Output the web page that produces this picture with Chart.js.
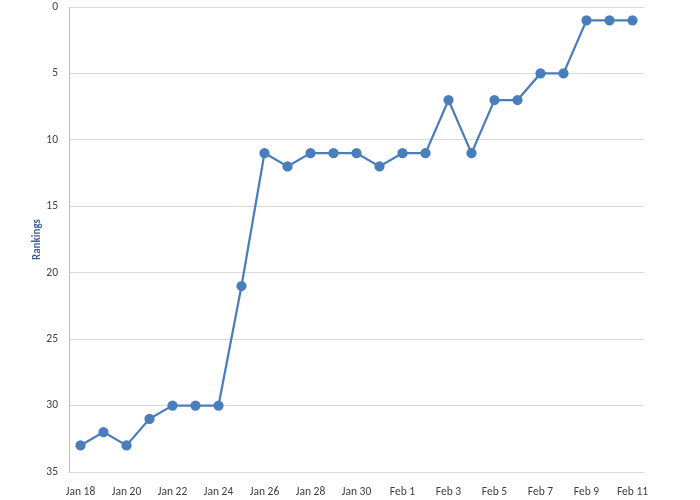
<!DOCTYPE html>
<html>
<head>
<meta charset="utf-8">
<script src="https://cdn.jsdelivr.net/npm/chart.js@4"></script>
<style>
  html, body { margin: 0; padding: 0; background: #fff; }
  #wrap { width: 700px; height: 500px; }
</style>
</head>
<body>
<div id="wrap"><canvas id="chart"></canvas></div>
<script>
// --- Data ---
const days = ['Jan 18','Jan 19','Jan 20','Jan 21','Jan 22','Jan 23','Jan 24','Jan 25','Jan 26','Jan 27','Jan 28','Jan 29','Jan 30','Jan 31',
              'Feb 1','Feb 2','Feb 3','Feb 4','Feb 5','Feb 6','Feb 7','Feb 8','Feb 9','Feb 10','Feb 11'];
const rankings = [33, 32, 33, 31, 30, 30, 30, 21, 11, 12, 11, 11, 11, 12, 11, 11, 7, 11, 7, 7, 5, 5, 1, 1, 1];
const yMin = 0, yMax = 35, yStep = 5;

const lineBlue = '#4a7ebb';
const font = { family: 'Calibri, Carlito, Lato, sans-serif', size: 11.5 };

new Chart(document.getElementById('chart').getContext('2d'), {
    type: 'line',
    data: {
        labels: days,
        datasets: [{
            label: 'Rankings',
            data: rankings,
            borderColor: lineBlue,
            backgroundColor: lineBlue,
            borderWidth: 2.25,
            pointRadius: 4,
            pointBackgroundColor: lineBlue,
            pointBorderColor: lineBlue,
            tension: 0
        }]
    },
    options: {
        responsive: true,
        maintainAspectRatio: false,
        animation: false,
        layout: { padding: { top: 7, right: 56, bottom: 0, left: 0 } },
        plugins: { legend: { display: false }, tooltip: { enabled: false } },
        scales: {
            x: {
                offset: true,
                grid: { display: false, drawTicks: false },
                border: { display: false },
                ticks: {
                    autoSkip: false, maxRotation: 0, padding: 13, color: '#404040', font: font,
                    callback: function (v, i) { return i % 2 === 0 ? this.getLabelForValue(v) : ''; }
                },
                afterFit: s => { s.height = 28; }
            },
            y: {
                reverse: true,
                min: yMin, max: yMax,
                grid: { color: '#d9d9d9', drawTicks: false },
                border: { display: true, color: '#bfbfbf' },
                ticks: { stepSize: yStep, padding: 11, color: '#404040', font: font },
                title: {
                    display: true, text: 'Rankings', color: '#3f6296',
                    font: { family: font.family, size: 11, weight: 'bold' },
                    padding: { top: 31, bottom: 0 }
                },
                afterFit: s => { s.width = 69; s.paddingTop = 0; s.paddingBottom = 0; }
            }
        }
    }
});
</script>
</body>
</html>
